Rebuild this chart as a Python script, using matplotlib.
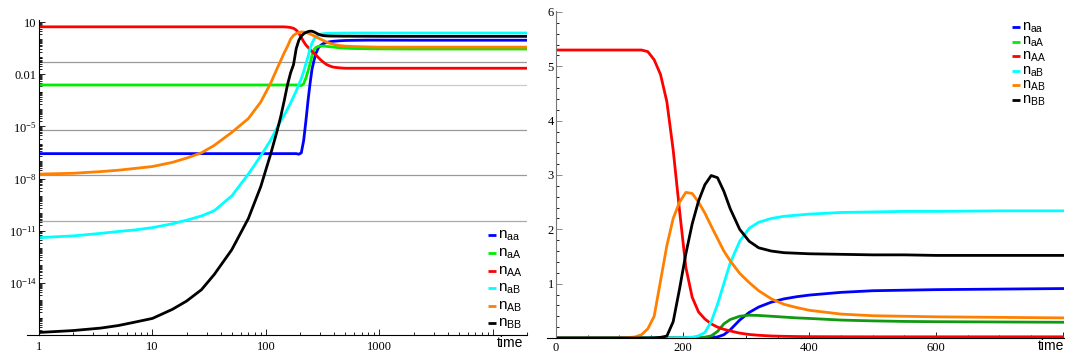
import numpy as np
import matplotlib.pyplot as plt
from matplotlib.ticker import FixedLocator, LogLocator, MultipleLocator, NullFormatter

# time grid shared by both panels
t = [1, 2, 3.5, 5, 7, 10, 15, 20, 27, 35, 50, 70, 90, 110, 125, 135,
     145, 155, 165, 175, 185, 195, 205, 215, 225, 235, 245, 255, 265, 275,
     290, 305, 320, 340, 360, 380, 400, 450, 500, 550, 600, 700, 800,
     1000, 2000, 5000, 10000, 20000]

n_aa = [2.7e-7] * 21 + [2.5e-7, 3e-7, 1.5e-6, 2e-5, 3e-4, 3e-3, 0.02, 0.06, 0.15,
                        0.33, 0.47, 0.57, 0.66, 0.72, 0.76, 0.79, 0.84, 0.87, 0.88,
                        0.89, 0.90, 0.91, 0.91, 0.90, 0.90, 0.90, 0.90]
n_aA = [0.0024] * 21 + [0.0023, 0.0022, 0.0028, 0.006, 0.015, 0.04, 0.12, 0.26, 0.34,
                        0.40, 0.42, 0.415, 0.40, 0.385, 0.37, 0.36, 0.33, 0.315, 0.305,
                        0.30, 0.295, 0.29, 0.285, 0.28, 0.28, 0.28, 0.28]
n_AA = [5.3] * 16 + [5.27, 5.12, 4.85, 4.35, 3.46, 2.35, 1.3, 0.75, 0.48, 0.35,
                     0.26, 0.2, 0.16, 0.13, 0.09, 0.065, 0.05, 0.037, 0.031, 0.027,
                     0.025, 0.023, 0.022, 0.022, 0.022, 0.022, 0.022, 0.022, 0.022,
                     0.022, 0.022, 0.022]
n_aB = [4e-12, 5e-12, 7e-12, 9e-12, 1.1e-11, 1.5e-11, 2.5e-11, 4e-11, 7e-11, 1.4e-10,
        1e-9, 1.8e-8, 2e-7, 1.6e-6, 8e-6, 2e-5, 4.5e-5, 1e-4, 2.2e-4, 5e-4,
        1.1e-3, 2.5e-3, 5.6e-3, 0.014, 0.04, 0.1, 0.3, 0.62, 1.0, 1.38,
        1.78, 2.02, 2.13, 2.2, 2.24, 2.26, 2.28, 2.31, 2.32, 2.33,
        2.33, 2.34, 2.34, 2.34, 2.34, 2.34, 2.34, 2.34]
n_AB = [1.8e-8, 2.0e-8, 2.5e-8, 3.0e-8, 3.8e-8, 4.9e-8, 8.5e-8, 1.5e-7, 3.0e-7, 8e-7,
        4.5e-6, 2.8e-5, 2.5e-4, 3e-3, 0.02, 0.06, 0.17, 0.4, 1.05, 1.7,
        2.2, 2.5, 2.68, 2.66, 2.5, 2.3, 2.06, 1.83, 1.6, 1.42,
        1.19, 1.02, 0.87, 0.72, 0.62, 0.56, 0.51, 0.44, 0.41, 0.40,
        0.39, 0.38, 0.37, 0.36, 0.36, 0.36, 0.36, 0.36]
n_BB = [1.4e-17, 1.8e-17, 2.5e-17, 3.5e-17, 5.5e-17, 9e-17, 3e-16, 9e-16, 4e-15, 3e-14,
        8e-13, 5e-11, 3.4e-9, 2.5e-7, 5e-6, 3.6e-5, 3e-4, 2.5e-3, 0.012, 0.035,
        0.3, 0.9, 1.55, 2.1, 2.52, 2.82, 2.99, 2.95, 2.7, 2.38,
        2.0, 1.78, 1.66, 1.6, 1.57, 1.56, 1.55, 1.54, 1.53, 1.53,
        1.52, 1.52, 1.52, 1.51, 1.5, 1.5, 1.5, 1.5]

series = [n_aa, n_aA, n_AA, n_aB, n_AB, n_BB]
labels = [r'$\mathregular{n_{aa}}$', r'$\mathregular{n_{aA}}$', r'$\mathregular{n_{AA}}$',
          r'$\mathregular{n_{aB}}$', r'$\mathregular{n_{AB}}$', r'$\mathregular{n_{BB}}$']
colors_log = ['#0000ff', '#00ee00', '#ff0000', '#00ffff', '#ff8000', '#000000']
colors_lin = ['#0000ff', '#119911', '#ff0000', '#00ffff', '#ff8000', '#000000']

# horizontal reference lines in the log panel, at exp(-k)
ref_exponents = [-3, -6, -12, -18, -24]
ref_colors = ['#999999', '#cccccc', '#999999', '#999999', '#aaaaaa']

W, H = 1070, 358
serif = 'Liberation Serif'
sans = 'Liberation Sans'


def box(x0, y0, x1, y1):
    return [x0 / W, 1 - y1 / H, (x1 - x0) / W, (y1 - y0) / H]


def style_axes(ax, ycolor='black'):
    for s in ['top', 'right']:
        ax.spines[s].set_visible(False)
    ax.spines['left'].set_color(ycolor)
    ax.spines['left'].set_linewidth(0.8)
    ax.spines['bottom'].set_linewidth(0.8)
    ax.tick_params(which='both', direction='in', width=0.6, labelsize=9)
    ax.tick_params(which='major', length=4)
    ax.tick_params(which='minor', length=2)
    ax.tick_params(axis='y', colors=ycolor, labelcolor='black')
    for lab in ax.get_xticklabels() + ax.get_yticklabels():
        lab.set_fontfamily(serif)


def add_legend(x, ys, colors, size):
    for y, c, lab in zip(ys, colors, labels):
        fig.add_artist(plt.Line2D([x / W, (x + 7.5) / W], [1 - y / H, 1 - y / H],
                                  color=c, lw=2.0, solid_capstyle='butt'))
        fig.text((x + 9.5) / W, 1 - (y + 3.5) / H, lab, fontsize=size,
                 family=sans, va='baseline', ha='left')


fig = plt.figure(figsize=(W / 100, H / 100), dpi=100)

# ---- left panel: log-log ----
ax1 = fig.add_axes(box(39, 20.3, 527, 335))
for k, c in zip(ref_exponents, ref_colors):
    ax1.axhline(np.exp(k), color=c, lw=0.9, zorder=1)
for vals, c in zip(series, colors_log):
    ax1.plot(t, vals, color=c, lw=2.0, zorder=2)
ax1.set_xscale('log')
ax1.set_yscale('log')
ax1.set_xlim(1, 20000)
ax1.set_ylim(1e-17, 10 ** 1.1)
ax1.xaxis.set_major_locator(FixedLocator([1, 10, 100, 1000, 10000]))
ax1.set_xticklabels(['1', '10', '100', '1000', ''])
ax1.xaxis.set_minor_locator(LogLocator(base=10, subs=np.arange(2, 10), numticks=100))
ax1.xaxis.set_minor_formatter(NullFormatter())
ax1.yaxis.set_major_locator(FixedLocator([10, 1e-2, 1e-5, 1e-8, 1e-11, 1e-14]))
ax1.set_yticklabels(['10', '0.01', r'$\mathregular{10^{-5}}$', r'$\mathregular{10^{-8}}$',
                     r'$\mathregular{10^{-11}}$', r'$\mathregular{10^{-14}}$'])
ax1.yaxis.set_minor_locator(LogLocator(base=10, subs=np.arange(1, 10), numticks=300))
ax1.yaxis.set_minor_formatter(NullFormatter())
style_axes(ax1)
ax1.tick_params(axis='x', pad=4)
ax1.tick_params(axis='y', pad=1.5)
ax1.plot([-12 / 488, 0], [0, 0], transform=ax1.transAxes, color='k', lw=0.8, clip_on=False)

# ---- right panel: linear ----
ax2 = fig.add_axes(box(556, 10.9, 1064, 338))
for vals, c in zip(series, colors_lin):
    ax2.plot(t, vals, color=c, lw=2.0)
ax2.set_xlim(0, 802)
ax2.set_ylim(0, 6.02)
ax2.xaxis.set_major_locator(FixedLocator([0, 200, 400, 600, 800]))
ax2.set_xticklabels(['0', '200', '400', '600', ''])
ax2.xaxis.set_minor_locator(MultipleLocator(50))
ax2.yaxis.set_major_locator(FixedLocator([1, 2, 3, 4, 5, 6]))
ax2.set_yticklabels(['1', '2', '3', '4', '5', '6'])
ax2.yaxis.set_minor_locator(MultipleLocator(0.2))
style_axes(ax2, ycolor='#777777')
ax2.tick_params(axis='x', pad=3)
ax2.tick_params(axis='y', pad=1.5)
ax2.plot([-9 / 508, 0], [0, 0], transform=ax2.transAxes, color='k', lw=0.8, clip_on=False)

# legends and axis captions
add_legend(488, [235, 253.3, 270.7, 288.3, 306, 323.3], colors_log, 11)
add_legend(1012, [27, 41.6, 56.2, 70.8, 85.4, 100], colors_log, 10.5)
fig.text(510 / W, 1 - 343 / H, 'time', fontsize=10, family=sans, ha='center', va='center')
fig.text(1051 / W, 1 - 346 / H, 'time', fontsize=10, family=sans, ha='center', va='center')

fig.savefig('out.png', dpi=100)
